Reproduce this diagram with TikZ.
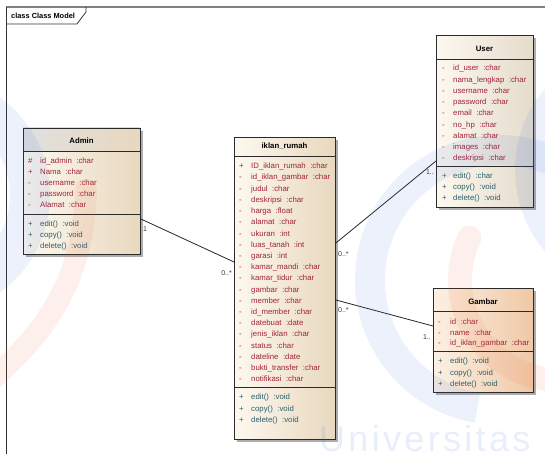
\documentclass[tikz,border=0pt]{standalone}
\usepackage{fontspec}
\setmainfont{Liberation Sans}
\newfontfamily\wmfont[LetterSpace=9.2]{Liberation Sans}
\usetikzlibrary{calc,shadows}

\definecolor{attrred}{HTML}{A1233A}
\definecolor{opteal}{HTML}{2B5F6C}
\definecolor{boxline}{HTML}{2A2A2A}
\definecolor{cream}{HTML}{FDF8EF}
\definecolor{tan}{HTML}{E8D8BE}
\definecolor{usertan}{HTML}{E4DBCB}
\definecolor{peachlight}{HTML}{FCF0E2}
\definecolor{peach}{HTML}{EFC8A6}
\definecolor{headgray}{HTML}{E0E0E0}
\definecolor{wmblue}{HTML}{3366DD}
\definecolor{wmorange}{HTML}{F06030}
\definecolor{framegray}{HTML}{808080}
\definecolor{multgray}{HTML}{3A3A3A}

\newcommand\mgap{\hspace{4.5pt}}

\tikzset{
  classbox/.style={draw=boxline, line width=0.9pt, anchor=north west, inner sep=0pt,
    left color=cream, right color=tan,
    drop shadow={shadow xshift=2.5pt, shadow yshift=-2.5pt, fill=black!32, opacity=1}},
  divider/.style={draw=boxline, line width=0.9pt},
  cname/.style={font=\bfseries\fontsize{7.8}{9}\selectfont, inner sep=0pt, text=black},
  mem/.style={anchor=west, inner sep=0pt, text height=5.6pt, text depth=0pt,
    font=\fontsize{7.8}{9}\selectfont},
  attr/.style={mem, text=attrred},
  oper/.style={mem, text=opteal},
  multlabel/.style={font=\fontsize{7}{8}\selectfont, text=multgray, inner sep=0pt,
    text height=5pt, text depth=0pt},
  assoc/.style={draw=black!85, line width=0.8pt},
  wmark/.style={opacity=0.09},
}

\begin{document}
\begin{tikzpicture}[x=1pt, y=-1pt]
\useasboundingbox (0,0) rectangle (545,454);
\fill[white] (0,0) rectangle (545,454);

% diagram frame and its name tab
\draw[framegray, line width=1.6pt] (6,7) -- (545,7);
\draw[black!80, line width=1pt] (6,7) -- (6,454);
\draw[black!80, line width=0.8pt] (6,24) -- (77,24) -- (86,12) -- (86,7);
\node[anchor=west, inner sep=0pt, font=\bfseries\fontsize{7.4}{8}\selectfont] (frametitle) at (11,16) {class Class Model};

% ---------- Admin ----------
\node[classbox, minimum width=117pt, minimum height=126pt] (admin) at (23,128) {};
\shade[left color=headgray, right color=tan] (23,128) rectangle (140,151.5);
\draw[boxline, line width=0.9pt] (23,128) rectangle (140,254);
\draw[divider] (23,151.5) -- (140,151.5);
\draw[divider] (23,214) -- (140,214);
\node[cname] (admin-name) at (81.5,141) {Admin};
\foreach [count=\i] \v/\t in {\#/id\_admin\mgap:char, +/Nama\mgap:char, -/username\mgap:char,
    -/password\mgap:char, -/Alamat\mgap:char} {
  \node[attr] (admin-av\i) at (28,{161+11*(\i-1)}) {\v};
  \node[attr] (admin-a\i) at (40,{161+11*(\i-1)}) {\t};
}
\foreach [count=\i] \t in {edit()\mgap:void, copy()\mgap:void, delete()\mgap:void} {
  \node[oper] (admin-ov\i) at (28,{224+11*(\i-1)}) {+};
  \node[oper] (admin-o\i) at (40,{224+11*(\i-1)}) {\t};
}

% ---------- iklan_rumah ----------
\node[classbox, minimum width=101pt, minimum height=302pt] (iklan) at (234,137) {};
\draw[divider] (234,156) -- (335,156);
\draw[divider] (234,387) -- (335,387);
\node[cname] (iklan-name) at (284.5,146) {iklan\_rumah};
\foreach [count=\i] \v/\t in {+/ID\_iklan\_rumah\mgap:char, -/id\_iklan\_gambar\mgap:char,
    -/judul\mgap:char, -/deskripsi\mgap:char, -/harga\mgap:float, -/alamat\mgap:char,
    -/ukuran\mgap:int, -/luas\_tanah\mgap:int, -/garasi\mgap:int, -/kamar\_mandi\mgap:char,
    -/kamar\_tidur\mgap:char, -/gambar\mgap:char, -/member\mgap:char, -/id\_member\mgap:char,
    -/datebuat\mgap:date, -/jenis\_iklan\mgap:char, -/status\mgap:char, -/dateline\mgap:date,
    -/bukti\_transfer\mgap:char, -/notifikasi\mgap:char} {
  \node[attr] (iklan-av\i) at (239,{166+11.2*(\i-1)}) {\v};
  \node[attr] (iklan-a\i) at (251,{166+11.2*(\i-1)}) {\t};
}
\foreach [count=\i] \t in {edit()\mgap:void, copy()\mgap:void, delete()\mgap:void} {
  \node[oper] (iklan-ov\i) at (239,{397+11.5*(\i-1)}) {+};
  \node[oper] (iklan-o\i) at (251,{397+11.5*(\i-1)}) {\t};
}

% ---------- User ----------
\node[classbox, right color=usertan, minimum width=97pt, minimum height=172pt] (user) at (436,35) {};
\draw[divider] (436,59.5) -- (533,59.5);
\draw[divider] (436,166) -- (533,166);
\node[cname] (user-name) at (484.5,49) {User};
\foreach [count=\i] \t in {id\_user\mgap:char, nama\_lengkap\mgap:char, username\mgap:char,
    password\mgap:char, email\mgap:char, no\_hp\mgap:char, alamat\mgap:char,
    images\mgap:char, deskripsi\mgap:char} {
  \node[attr] (user-av\i) at (442,{68+11.25*(\i-1)}) {-};
  \node[attr] (user-a\i) at (453,{68+11.25*(\i-1)}) {\t};
}
\foreach [count=\i] \t in {edit()\mgap:char, copy()\mgap:void, delete()\mgap:void} {
  \node[oper] (user-ov\i) at (442,{176+11*(\i-1)}) {+};
  \node[oper] (user-o\i) at (453,{176+11*(\i-1)}) {\t};
}

% ---------- Gambar ----------
\node[classbox, left color=peachlight, right color=peach, minimum width=100pt, minimum height=104pt] (gambar) at (433,288) {};
\draw[divider] (433,311.5) -- (533,311.5);
\draw[divider] (433,351) -- (533,351);
\node[cname] (gambar-name) at (483,302) {Gambar};
\foreach [count=\i] \t in {id\mgap:char, name\mgap:char, id\_iklan\_gambar\mgap:char} {
  \node[attr] (gambar-av\i) at (438,{322+10.5*(\i-1)}) {-};
  \node[attr] (gambar-a\i) at (450,{322+10.5*(\i-1)}) {\t};
}
\foreach [count=\i] \t in {edit()\mgap:void, copy()\mgap:void, delete()\mgap:void} {
  \node[oper] (gambar-ov\i) at (438,{361+11.5*(\i-1)}) {+};
  \node[oper] (gambar-o\i) at (450,{361+11.5*(\i-1)}) {\t};
}

% ---------- associations ----------
\coordinate (adR) at ($(admin.north east)+(0,91)$);
\coordinate (ikL) at ($(iklan.north west)+(0,125)$);
\coordinate (ikR1) at ($(iklan.north east)+(0,106)$);
\coordinate (ikR2) at ($(iklan.north east)+(0,163)$);
\coordinate (usL) at ($(user.north west)+(0,126)$);
\coordinate (gaL) at ($(gambar.north west)+(0,38)$);
\draw[assoc] (adR) -- (ikL);
\draw[assoc] (ikR1) -- (usL);
\draw[assoc] (ikR2) -- (gaL);

\node[multlabel, anchor=west] (m-admin) at (143,229) {1};
\node[multlabel, anchor=east] (m-iklan1) at (232,273) {0..*};
\node[multlabel, anchor=west] (m-iklan2) at (338,254) {0..*};
\node[multlabel, anchor=east] (m-user) at (434,172) {1..};
\node[multlabel, anchor=west] (m-iklan3) at (338,310) {0..*};
\node[multlabel, anchor=east] (m-gambar) at (431,337) {1..};

% ---------- faint logo watermark laid over the page ----------
\begin{scope}[wmark]
  \draw[wmblue, line width=40pt] (-70,195) circle[radius=100];
  \draw[wmorange, line width=22pt, line cap=round] (86,190) .. controls (84,280) and (45,335) .. (-15,385);
  \draw[wmblue, line width=30pt] (477.4,408) arc[start angle=100, end angle=300, radius=130];
  \draw[wmblue, line width=30pt] (640,170) circle[radius=110];
  \draw[wmorange, line width=24pt, line cap=round] (469.4,237.7) arc[start angle=205, end angle=60, radius=100];
\end{scope}
\node[anchor=base west, inner sep=0pt, text=wmblue, opacity=0.11,
  font=\wmfont\fontsize{36}{36}\selectfont] (wmtext) at (319,451) {Universitas};
\end{tikzpicture}
\end{document}
